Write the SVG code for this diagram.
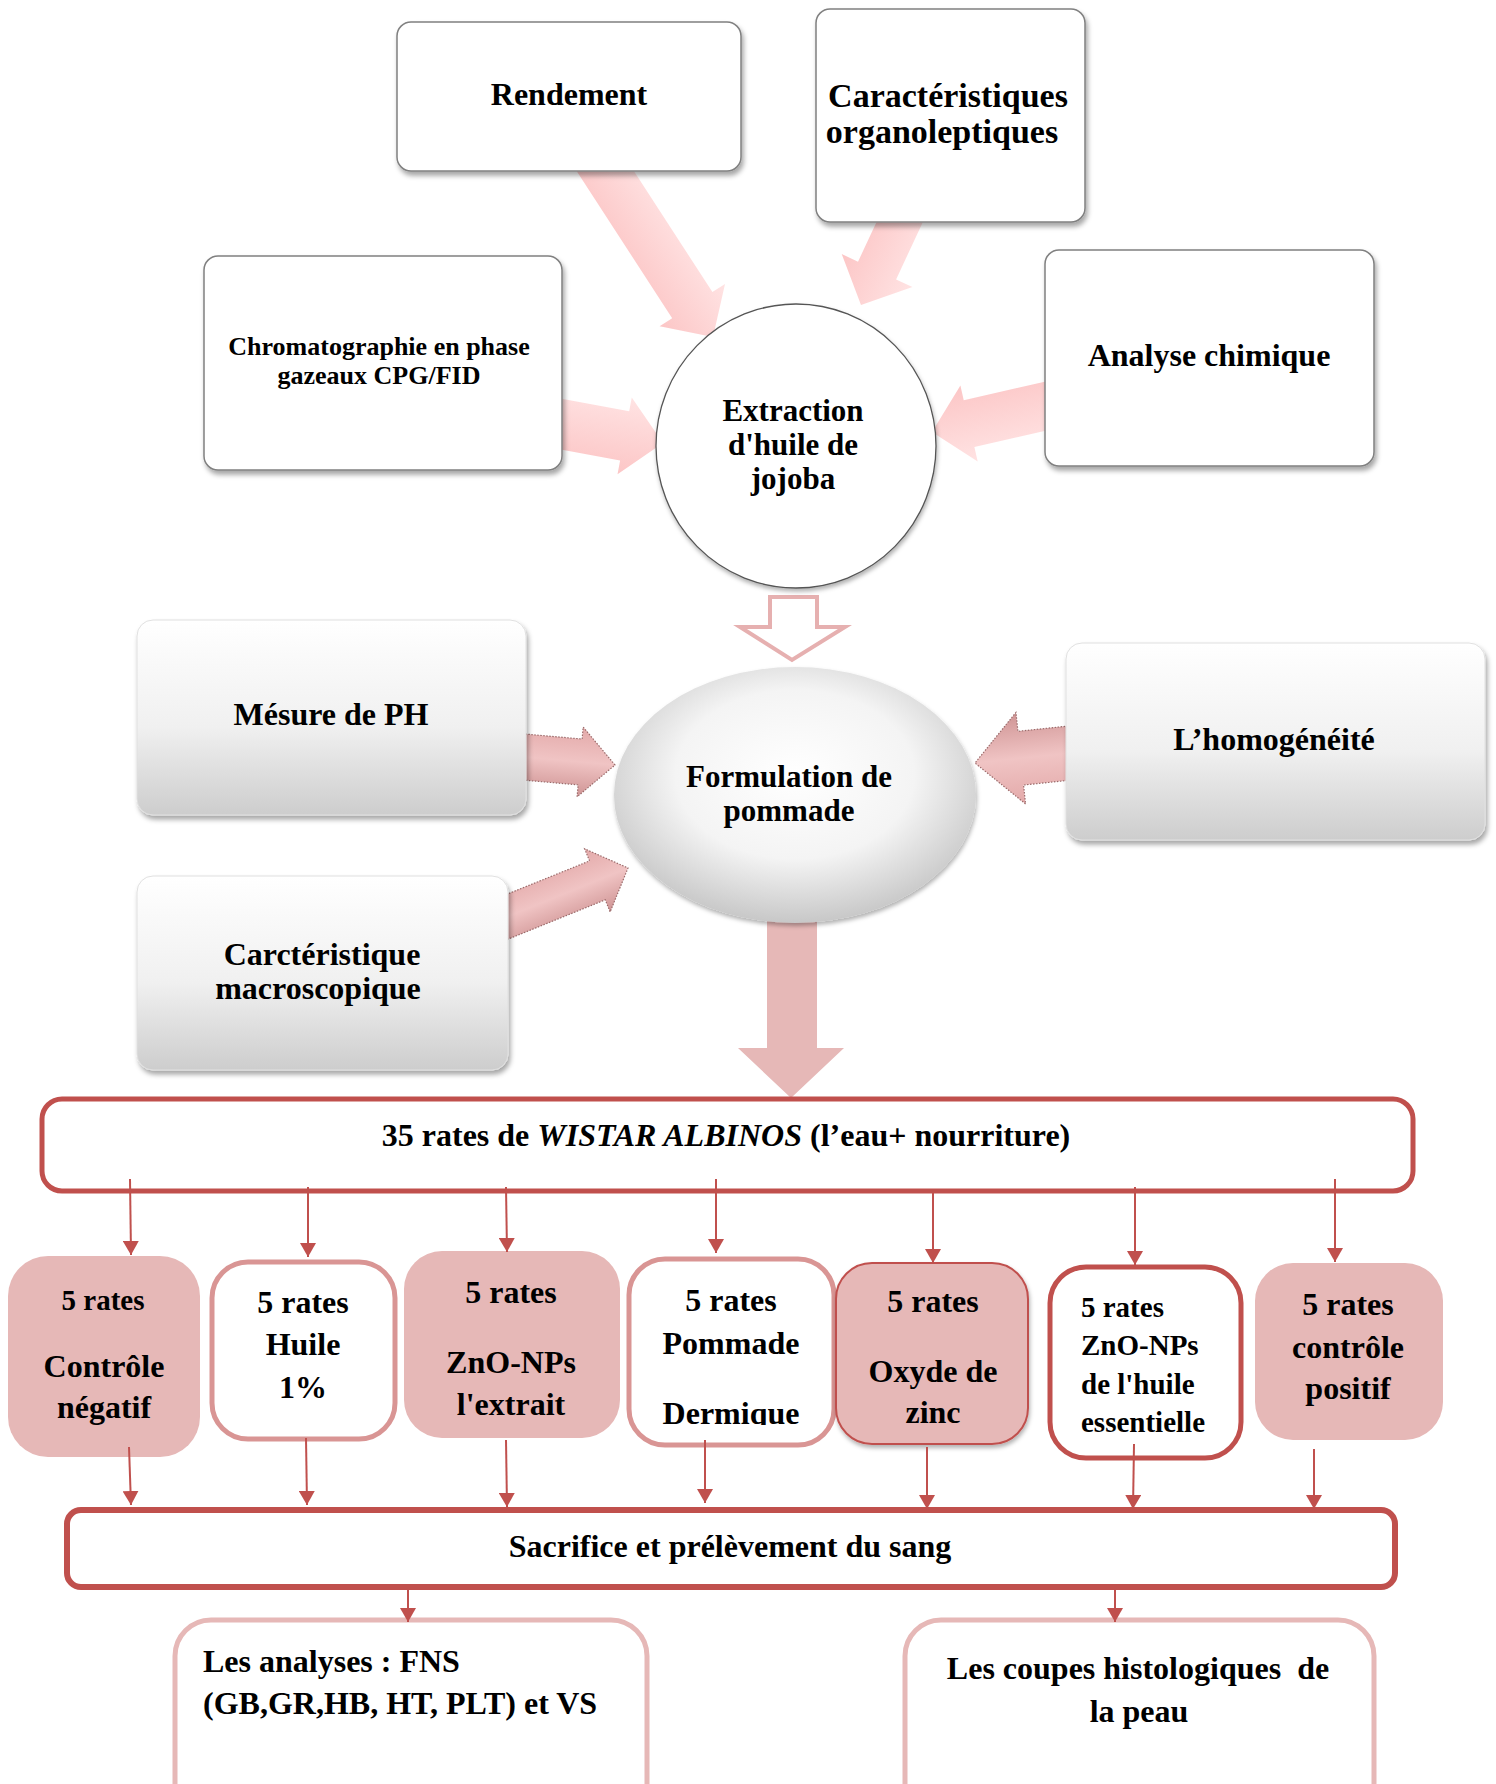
<svg xmlns="http://www.w3.org/2000/svg" width="1496" height="1784" viewBox="0 0 1496 1784">
<defs>
<style>
.t{font-family:"Liberation Serif","Times New Roman",serif;font-weight:bold;font-size:32px;fill:#000}
.c{text-anchor:middle}
.topbox{fill:#fff;stroke:#808080;stroke-width:1.5}
.midbox{fill:url(#gGray);stroke:#e0e0e0;stroke-width:1}
.tarrow{fill:url(#gPinkLight)}
.marrow{fill:url(#gPinkMid);stroke:#9a6a6a;stroke-width:1.2;stroke-dasharray:1.5 1.5}
.ln{stroke:#c0504d;stroke-width:2;fill:none;marker-end:url(#ah)}
.fillP{fill:#e6b8b7}
</style>
<linearGradient id="gGray" x1="0" y1="0" x2="0" y2="1">
<stop offset="0" stop-color="#ffffff"/>
<stop offset="0.55" stop-color="#f0f0f0"/>
<stop offset="1" stop-color="#cdcdcd"/>
</linearGradient>
<linearGradient id="gPinkLight" x1="0" y1="0" x2="0" y2="1">
<stop offset="0" stop-color="#ffe3e3"/>
<stop offset="1" stop-color="#fcc6c6"/>
</linearGradient>
<linearGradient id="gPinkMid" x1="0" y1="0" x2="0" y2="1">
<stop offset="0" stop-color="#e3a9a9"/>
<stop offset="0.5" stop-color="#f0c4c4"/>
<stop offset="1" stop-color="#cf9494"/>
</linearGradient>
<radialGradient id="gEll" cx="0.5" cy="0.42" r="0.6">
<stop offset="0" stop-color="#ffffff"/>
<stop offset="0.55" stop-color="#f4f4f4"/>
<stop offset="1" stop-color="#c4c4c4"/>
</radialGradient>
<filter id="sh" x="-10%" y="-10%" width="125%" height="130%">
<feDropShadow dx="2" dy="4" stdDeviation="2.5" flood-color="#000" flood-opacity="0.35"/>
</filter>
<filter id="sh2" x="-10%" y="-10%" width="125%" height="130%">
<feDropShadow dx="1" dy="3" stdDeviation="2" flood-color="#000" flood-opacity="0.3"/>
</filter>
<marker id="ah" viewBox="0 0 14 16" refX="14" refY="8" markerWidth="14" markerHeight="16" markerUnits="userSpaceOnUse" orient="auto">
<path d="M0,0 L14,8 L0,16 z" fill="#c0504d"/>
</marker>
<clipPath id="clipDerm"><rect x="629" y="1259" width="205" height="166"/></clipPath>
</defs>

<g id="connectors">
<polygon class="tarrow" transform="translate(713,337) rotate(57)" points="-215,-24 -38,-24 -38,-39 0,0 -38,39 -38,24 -215,24"/>
<polygon class="tarrow" transform="translate(861,305) rotate(115)" points="-110,-21 -38,-21 -38,-39 0,0 -38,39 -38,21 -110,21"/>
<polygon class="tarrow" transform="translate(663,443) rotate(10.5)" points="-120,-25 -39,-25 -39,-39 0,0 -39,39 -39,25 -120,25"/>
<polygon class="tarrow" transform="translate(932,432) rotate(167.2)" points="-130,-24 -38,-24 -38,-39 0,0 -38,39 -38,24 -130,24"/>
<polygon points="770,597 817,597 817,627 845,627 792,660 740,627 770,627" fill="#fff" stroke="#e6b0b0" stroke-width="4"/>
<polygon class="marrow" transform="translate(615,765) rotate(5)" points="-110,-23 -35,-23 -35,-35 0,0 -35,35 -35,23 -110,23"/>
<polygon class="marrow" transform="translate(628,868) rotate(-22)" points="-150,-21 -33,-21 -33,-34 0,0 -33,34 -33,21 -150,21"/>
<polygon class="marrow" transform="translate(975,763) rotate(174)" points="-120,-27 -46,-27 -46,-46 0,0 -46,46 -46,27 -120,27"/>
<polygon points="767,920 817,920 817,1048 844,1048 791,1098 738,1048 767,1048" fill="#e6b8b7"/>
</g>

<g id="node-rendement">
<rect class="topbox" x="397" y="22" width="344" height="149" rx="14" filter="url(#sh)"/>
<text class="t c" x="569" y="105">Rendement</text>
</g>
<g id="node-caracteristiques">
<rect class="topbox" x="816" y="9" width="269" height="213" rx="14" filter="url(#sh)"/>
<text class="t c" x="948" y="107" style="font-size:34px">Caractéristiques</text>
<text class="t c" x="942" y="143" style="font-size:34px">organoleptiques</text>
</g>
<g id="node-chromatographie">
<rect class="topbox" x="204" y="256" width="358" height="214" rx="14" filter="url(#sh)"/>
<text class="t c" x="379" y="355" style="font-size:26px">Chromatographie en phase</text>
<text class="t c" x="379" y="384" style="font-size:26px">gazeaux CPG/FID</text>
</g>
<g id="node-analyse">
<rect class="topbox" x="1045" y="250" width="329" height="216" rx="14" filter="url(#sh)"/>
<text class="t c" x="1209" y="366">Analyse chimique</text>
</g>
<g id="node-extraction">
<ellipse cx="796" cy="446" rx="140" ry="142" fill="#fff" stroke="#555" stroke-width="1.3" filter="url(#sh2)"/>
<text class="t c" x="793" y="421" style="font-size:31px">Extraction</text>
<text class="t c" x="793" y="455" style="font-size:31px">d'huile de</text>
<text class="t c" x="793" y="489" style="font-size:31px">jojoba</text>
</g>

<g id="node-mesure">
<rect class="midbox" x="137" y="620" width="389" height="195" rx="16" filter="url(#sh)"/>
<text class="t c" x="331" y="725">Mésure de PH</text>
</g>
<g id="node-homogeneite">
<rect class="midbox" x="1066" y="643" width="419" height="197" rx="16" filter="url(#sh)"/>
<text class="t c" x="1274" y="750">L’homogénéité</text>
</g>
<g id="node-macroscopique">
<rect class="midbox" x="137" y="876" width="371" height="194" rx="16" filter="url(#sh)"/>
<text class="t c" x="322" y="965">Carctéristique</text>
<text class="t c" x="318" y="999">macroscopique</text>
</g>
<g id="node-formulation">
<ellipse cx="795" cy="795" rx="181" ry="128" fill="url(#gEll)" filter="url(#sh2)"/>
<text class="t c" x="789" y="787" style="font-size:31px">Formulation de</text>
<text class="t c" x="789" y="821" style="font-size:31px">pommade</text>
</g>

<g id="node-rats">
<rect x="42" y="1099" width="1371" height="92" rx="20" fill="#fff" stroke="#c0504d" stroke-width="5"/>
<text class="t c" x="726" y="1146">35 rates de <tspan font-style="italic">WISTAR ALBINOS</tspan> (l’eau+ nourriture)</text>
</g>

<g id="node-g1">
<rect class="fillP" x="8" y="1256" width="192" height="201" rx="40"/>
<text class="t c" x="103" y="1310" style="font-size:29px">5 rates</text>
<text class="t c" x="104" y="1377">Contrôle</text>
<text class="t c" x="104" y="1418">négatif</text>
</g>
<g id="node-g2">
<rect x="212" y="1262" width="183" height="177" rx="36" fill="#fff" stroke="#d99594" stroke-width="5"/>
<text class="t c" x="303" y="1313">5 rates</text>
<text class="t c" x="303" y="1355">Huile</text>
<text class="t c" x="303" y="1398">1%</text>
</g>
<g id="node-g3">
<rect class="fillP" x="404" y="1251" width="216" height="187" rx="38"/>
<text class="t c" x="511" y="1303">5 rates</text>
<text class="t c" x="511" y="1373">ZnO-NPs</text>
<text class="t c" x="511" y="1415">l'extrait</text>
</g>
<g id="node-g4">
<rect x="629" y="1259" width="205" height="186" rx="36" fill="#fff" stroke="#d99594" stroke-width="5"/>
<text class="t c" x="731" y="1311">5 rates</text>
<text class="t c" x="731" y="1354">Pommade</text>
<text class="t c" x="731" y="1424" clip-path="url(#clipDerm)">Dermique</text>
</g>
<g id="node-g5">
<rect x="836" y="1263" width="192" height="181" rx="36" fill="#e6b8b7" stroke="#c0504d" stroke-width="2" filter="url(#sh2)"/>
<text class="t c" x="933" y="1312">5 rates</text>
<text class="t c" x="933" y="1382">Oxyde de</text>
<text class="t c" x="933" y="1423">zinc</text>
</g>
<g id="node-g6">
<rect x="1050" y="1267" width="191" height="191" rx="36" fill="#fff" stroke="#c0504d" stroke-width="5"/>
<text class="t" x="1081" y="1317" style="font-size:29px">5 rates</text>
<text class="t" x="1081" y="1355" style="font-size:29px">ZnO-NPs</text>
<text class="t" x="1081" y="1394" style="font-size:29px">de l'huile</text>
<text class="t" x="1081" y="1432" style="font-size:29px">essentielle</text>
</g>
<g id="node-g7">
<rect class="fillP" x="1255" y="1263" width="188" height="177" rx="38"/>
<text class="t c" x="1348" y="1315">5 rates</text>
<text class="t c" x="1348" y="1358">contrôle</text>
<text class="t c" x="1348" y="1399">positif</text>
</g>

<g id="node-sacrifice">
<rect x="67" y="1510" width="1328" height="77" rx="14" fill="#fff" stroke="#c0504d" stroke-width="6"/>
<text class="t c" x="730" y="1557">Sacrifice et prélèvement du sang</text>
</g>

<g id="node-analyses">
<rect x="175" y="1620" width="472" height="200" rx="36" fill="#fff" stroke="#e6b8b7" stroke-width="5"/>
<text class="t" x="203" y="1672">Les analyses : FNS</text>
<text class="t" x="203" y="1714">(GB,GR,HB, HT, PLT) et VS</text>
</g>
<g id="node-coupes">
<rect x="905" y="1620" width="469" height="200" rx="36" fill="#fff" stroke="#e6b8b7" stroke-width="5"/>
<text class="t c" x="1138" y="1679" xml:space="preserve">Les coupes histologiques  de</text>
<text class="t c" x="1139" y="1722">la peau</text>
</g>

<g id="connectors-lines">
<line class="ln" x1="130" y1="1179" x2="131" y2="1255"/>
<line class="ln" x1="308" y1="1187" x2="308" y2="1257"/>
<line class="ln" x1="506" y1="1187" x2="507" y2="1252"/>
<line class="ln" x1="716" y1="1179" x2="716" y2="1253"/>
<line class="ln" x1="933" y1="1190" x2="933" y2="1263"/>
<line class="ln" x1="1135" y1="1187" x2="1135" y2="1265"/>
<line class="ln" x1="1335" y1="1179" x2="1335" y2="1262"/>
<line class="ln" x1="129" y1="1447" x2="131" y2="1505"/>
<line class="ln" x1="306" y1="1438" x2="307" y2="1505"/>
<line class="ln" x1="506" y1="1440" x2="507" y2="1507"/>
<line class="ln" x1="705" y1="1440" x2="705" y2="1503"/>
<line class="ln" x1="927" y1="1447" x2="927" y2="1509"/>
<line class="ln" x1="1134" y1="1444" x2="1133" y2="1509"/>
<line class="ln" x1="1314" y1="1449" x2="1314" y2="1509"/>
<line class="ln" x1="408" y1="1587" x2="408" y2="1622"/>
<line class="ln" x1="1115" y1="1587" x2="1115" y2="1622"/>
</g>
</svg>
